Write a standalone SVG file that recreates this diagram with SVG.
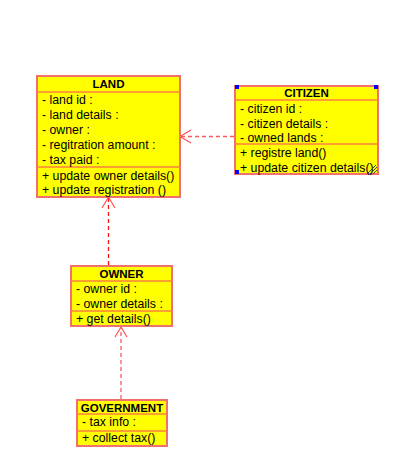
<svg xmlns="http://www.w3.org/2000/svg" width="403" height="475" viewBox="0 0 403 475">
<style>
.box{fill:#ffff00;stroke:#f07070;stroke-width:2}
.div{stroke:#ff7f40;stroke-width:1.5}
.t{font-family:"Liberation Sans",Arial,sans-serif;font-size:12.3px;fill:#000}
.h{font-family:"Liberation Sans",Arial,sans-serif;font-size:11.5px;font-weight:bold;fill:#000;text-anchor:middle}
.dep{fill:none;stroke:#ff5a5a;stroke-width:1.3;stroke-dasharray:4,3}
.dep2{fill:none;stroke:#ff1010;stroke-width:1.3;stroke-dasharray:4,3}
.head{fill:none;stroke:#ff4848;stroke-width:1.1}
.handle{fill:#0000ff}
</style>
<rect width="403" height="475" fill="#ffffff"/>
<g id="connectors">
<line class="dep" x1="234" y1="136.5" x2="181" y2="136.5"/>
<polyline class="head" points="191,130 180,136.5 191,143"/>
<line class="dep2" x1="108.5" y1="265" x2="108.5" y2="198"/>
<polyline class="head" points="102,208 108.5,197 115,208"/>
<line class="dep" x1="121" y1="399" x2="121" y2="328"/>
<polyline class="head" points="115,337 121,327 127,337"/>
</g>
<g id="land">
<rect class="box" x="37" y="76" width="143" height="121"/>
<line class="div" x1="37" y1="92" x2="180" y2="92"/>
<line class="div" x1="37" y1="167" x2="180" y2="167"/>
<text class="h" x="108.5" y="88">LAND</text>
<text class="t" x="42" y="104">- land id :</text>
<text class="t" x="42" y="119">- land details :</text>
<text class="t" x="42" y="134">- owner :</text>
<text class="t" x="42" y="149">- regitration amount :</text>
<text class="t" x="42" y="164">- tax paid :</text>
<text class="t" x="42" y="180">+ update owner details()</text>
<text class="t" x="42" y="194">+ update registration ()</text>
</g>
<g id="citizen">
<rect class="box" x="235" y="86" width="143" height="88"/>
<line class="div" x1="235" y1="100" x2="378" y2="100"/>
<line class="div" x1="235" y1="144" x2="378" y2="144"/>
<text class="h" x="306.5" y="97">CITIZEN</text>
<text class="t" x="240" y="112.5">- citizen id :</text>
<text class="t" x="240" y="127.5">- citizen details :</text>
<text class="t" x="240" y="142">- owned lands :</text>
<text class="t" x="240" y="157">+ registre land()</text>
<text class="t" x="240" y="172">+ update citizen details()</text>
<rect class="handle" x="235" y="85" width="4" height="4"/>
<rect class="handle" x="374" y="85" width="4" height="4"/>
<rect class="handle" x="235" y="170" width="4" height="4"/>
<g stroke="#404040" stroke-width="1">
<line x1="367" y1="174" x2="376" y2="165"/>
<line x1="370" y1="174" x2="377" y2="167"/>
<line x1="373" y1="174" x2="377" y2="170"/>
</g>
</g>
<g id="owner">
<rect class="box" x="71" y="266" width="101" height="60"/>
<line class="div" x1="71" y1="281" x2="172" y2="281"/>
<line class="div" x1="71" y1="311" x2="172" y2="311"/>
<text class="h" x="121.5" y="277.5">OWNER</text>
<text class="t" x="76" y="292.5">- owner id :</text>
<text class="t" x="76" y="307.5">- owner details :</text>
<text class="t" x="76" y="322.5">+ get details()</text>
</g>
<g id="government">
<rect class="box" x="77" y="400" width="90" height="46"/>
<line class="div" x1="77" y1="414" x2="167" y2="414"/>
<line class="div" x1="77" y1="431" x2="167" y2="431"/>
<text class="h" x="122" y="411.5">GOVERNMENT</text>
<text class="t" x="82" y="425.5">- tax info :</text>
<text class="t" x="82" y="441.5">+ collect tax()</text>
</g>
</svg>
